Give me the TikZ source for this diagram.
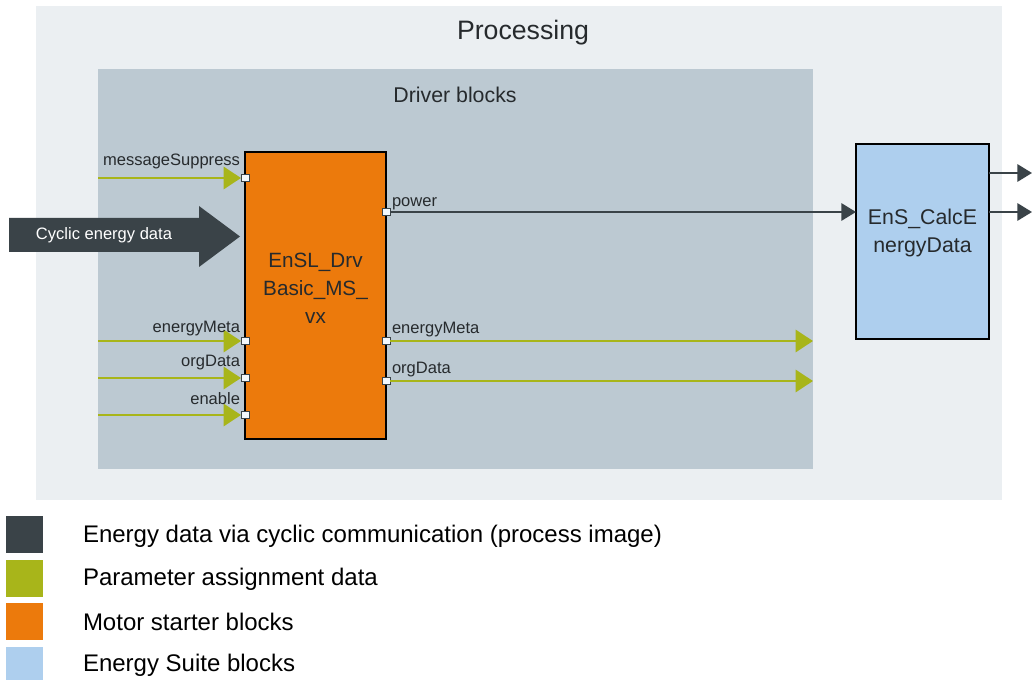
\documentclass[tikz,border=0pt]{standalone}
\usepackage{fontspec}
\setmainfont{Liberation Sans}
\usetikzlibrary{arrows.meta}
\definecolor{darkc}{HTML}{3A4348}
\definecolor{greenc}{HTML}{A8B51A}
\definecolor{orangec}{HTML}{EC7A0C}
\definecolor{bluec}{HTML}{AECFEE}
\definecolor{outerbg}{HTML}{EBEFF2}
\definecolor{drvbg}{HTML}{BCC9D2}
\definecolor{txtc}{HTML}{262A2D}
\tikzset{
  every node/.style={inner sep=0pt, outer sep=0pt},
  blockbox/.style={draw=black, line width=1.5pt, align=center, text=txtc, font=\fontsize{15.5}{20}\selectfont},
  port/.style={draw=darkc, fill=white!85!bluec, line width=0.7pt, minimum width=6pt, minimum height=5.2pt},
  greenarrow/.style={draw=greenc, line width=2.2pt, -{Triangle[length=13pt,width=16.5pt]}},
  darkarrow/.style={draw=darkc, line width=1.6pt, -{Triangle[length=11pt,width=13pt]}},
  portlabel/.style={text=txtc, font=\fontsize{12.4}{14}\selectfont},
  legendbox/.style={fill=#1, minimum width=37*0.75pt, minimum height=37*0.75pt, anchor=north west},
  legendtext/.style={anchor=west, text=black, font=\fontsize{18}{22}\selectfont},
}
\begin{document}
\begin{tikzpicture}[x=0.75pt, y=-0.75pt]
\useasboundingbox (0,0) rectangle (1032,680);
\fill[white] (0,0) rectangle (1032,680);
% containers
\node[fill=outerbg, minimum width=966*0.75pt, minimum height=494*0.75pt, anchor=north west] (proc) at (36,6) {};
\node[text=txtc, font=\fontsize{20}{24}\selectfont] (proct) at (523,33) {Processing};
\node[fill=drvbg, minimum width=715*0.75pt, minimum height=400*0.75pt, anchor=north west] (drvb) at (98,69) {};
\node[text=txtc, font=\fontsize{16}{20}\selectfont] (drvt) at (455,95) {Driver blocks};
% blocks
\node[blockbox, fill=orangec, minimum width=141*0.75pt, minimum height=287*0.75pt, anchor=north west] (drv) at (245,152) {};
\node[text=txtc, align=center, font=\fontsize{15.5}{21}\selectfont] (drvtext) at (315.5,288) {EnSL\_Drv\\Basic\_MS\_\\vx};
\node[blockbox, fill=bluec, minimum width=133*0.75pt, minimum height=195*0.75pt, anchor=north west] (ens) at (856,144) {};
\node[text=txtc, align=center, font=\fontsize{16}{21}\selectfont] (enstext) at (922.5,233) {EnS\_CalcE\\nergyData};
% cyclic energy data arrow
\fill[darkc] (9,218) -- (199,218) -- (199,206) -- (240,236.5) -- (199,267) -- (199,252) -- (9,252) -- cycle;
\node[anchor=west, text=white, font=\fontsize{12.4}{14}\selectfont] (cyc) at (36,235) {Cyclic energy data};
% input ports
\node[port] (pms) at (245,178) {};
\node[port] (pem) at (245,341) {};
\node[port] (pod) at (245,378) {};
\node[port] (pen) at (245,415) {};
% output ports
\node[port] (opw) at (386,212) {};
\node[port] (oem) at (386,341) {};
\node[port] (ood) at (386,381) {};
% free ends
\coordinate (sms) at (98,178);
\coordinate (sem) at (98,341);
\coordinate (sod) at (98,378);
\coordinate (sen) at (98,415);
\coordinate (eem) at (813,341);
\coordinate (eod) at (813,381);
\coordinate (eo1) at (1032,173);
\coordinate (eo2) at (1032,212);
% input connectors
\draw[greenarrow] (sms) -- (pms.west);
\draw[greenarrow] (sem) -- (pem.west);
\draw[greenarrow] (sod) -- (pod.west);
\draw[greenarrow] (sen) -- (pen.west);
% output connectors
\draw[darkarrow] (opw.east) -- (ens.west |- opw);
\draw[greenarrow] (oem.east) -- (eem);
\draw[greenarrow] (ood.east) -- (eod);
\draw[darkarrow] (ens.east |- eo1) -- (eo1);
\draw[darkarrow] (ens.east |- eo2) -- (eo2);
% port labels
\node[portlabel, anchor=base east] (lms) at (240,166) {messageSuppress};
\node[portlabel, anchor=base east] (lem) at (240,333) {energyMeta};
\node[portlabel, anchor=base east] (lod) at (240,367) {orgData};
\node[portlabel, anchor=base east] (len) at (240,405) {enable};
\node[portlabel, anchor=base west] (lpw) at (392,207) {power};
\node[portlabel, anchor=base west] (lem2) at (392,334) {energyMeta};
\node[portlabel, anchor=base west] (lod2) at (392,374) {orgData};
% legend
\node[legendbox=darkc] (lg1) at (6,516) {};
\node[legendbox=greenc] (lg2) at (6,560) {};
\node[legendbox=orangec] (lg3) at (6,603) {};
\node[legendbox=bluec] (lg4) at (6,647) {};
\node[legendtext] (lt1) at (83,536) {Energy data via cyclic communication (process image)};
\node[legendtext] (lt2) at (83,579) {Parameter assignment data};
\node[legendtext] (lt3) at (83,622) {Motor starter blocks};
\node[legendtext] (lt4) at (83,665) {Energy Suite blocks};
\end{tikzpicture}
\end{document}
